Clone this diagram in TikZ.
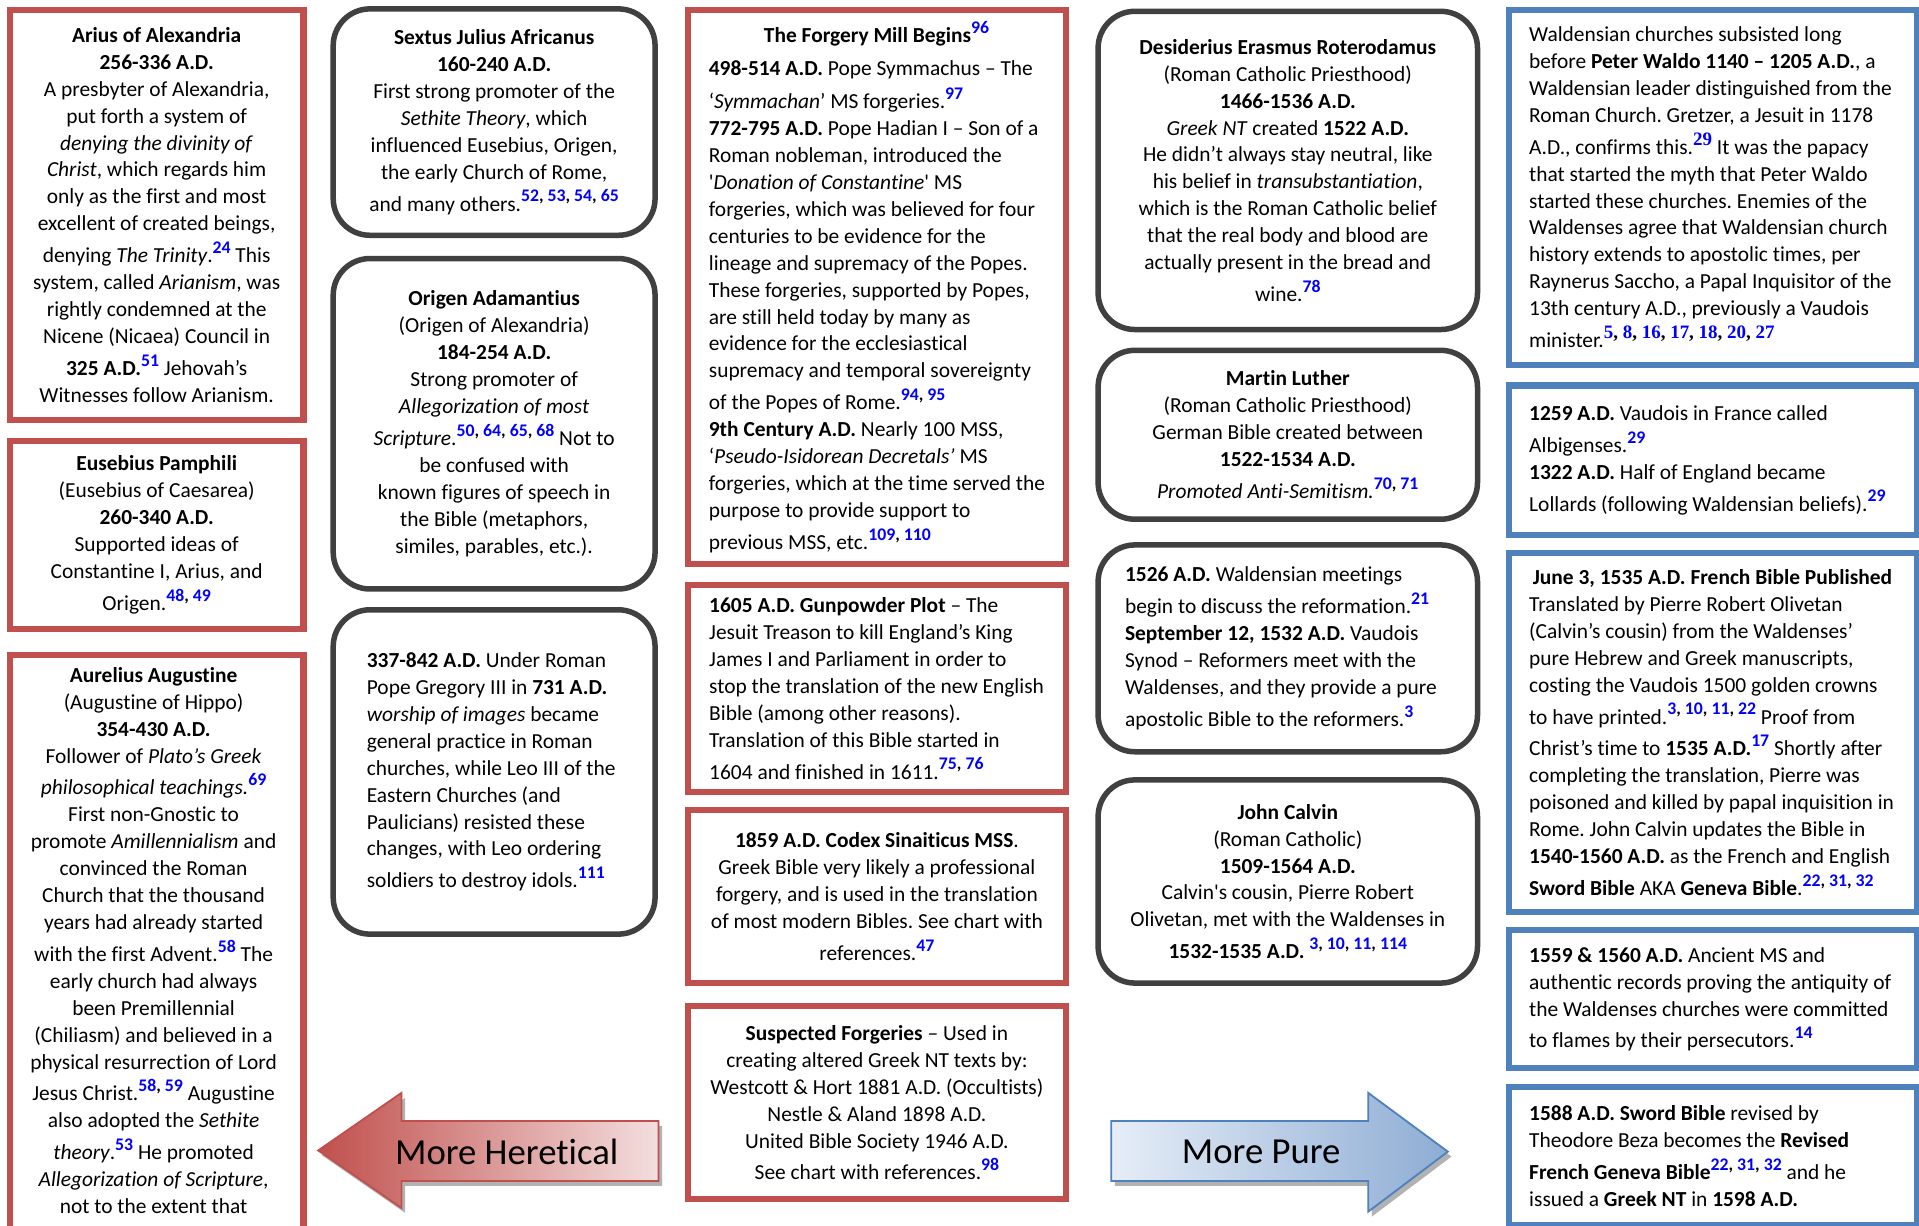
\documentclass[tikz,border=0pt]{standalone}
\usepackage{fontspec}
\setmainfont{Carlito}[Ligatures=NoCommon]
\newfontfamily\tnr{Liberation Serif}
\usepackage{xcolor}
\definecolor{boxred}{HTML}{C0504D}
\definecolor{boxblue}{HTML}{4F81BD}
\definecolor{boxgray}{HTML}{404040}
\definecolor{refblue}{HTML}{0000FF}
\definecolor{pinklight}{HTML}{F4DEDE}
\definecolor{bluelight}{HTML}{E6EDF7}
\definecolor{bluemid}{HTML}{8EADD4}
\newcommand\mainsz{\fontsize{17.5}{22}\selectfont\frenchspacing}
\newcommand\sr[1]{\raisebox{7.5pt}{\fontsize{14.5}{14.5}\selectfont\bfseries #1}}
\newcommand\srt[1]{\raisebox{7.5pt}{\fontsize{15.5}{15.5}\selectfont\tnr\bfseries #1}}
\newcommand\rb[1]{\textcolor{refblue}{#1}}
\newcommand\lw[2]{\makebox[#1pt][l]{#2}}
\tikzset{
  basebox/.style={line width=5pt, fill=white, inner sep=0pt, font=\mainsz, anchor=north west, text=black},
  redbox/.style={basebox, draw=boxred},
  bluebox/.style={basebox, draw=boxblue},
  graybox/.style={basebox, draw=boxgray, line width=4.5pt, rounded corners=30pt},
  cbox/.style={align=center},
  lbox/.style={align=left},
  arrowtxt/.style={font=\fontsize{30}{36}\selectfont, inner sep=0pt, text=black}
}
\begin{document}
\begin{tikzpicture}[x=1pt,y=-1pt]
\useasboundingbox (0,0) rectangle (1568,1001);
\fill[white] (0,0) rectangle (1568,1001);
\clip (0,0) rectangle (1568,1001);

% ---------- column A ----------
\node[redbox, cbox, minimum width=240, minimum height=335] (a1) at (5.5,5.5) {%
\textbf{Arius of Alexandria}\\
\textbf{256-336 A.D.}\\
A presbyter of Alexandria,\\
put forth a system of\\
\textit{denying the divinity of}\\
\textit{Christ}, which regards him\\
only as the first and most\\
excellent of created beings,\\[4pt]
denying \textit{The Trinity}.\sr{\rb{24}} This\\
system, called \textit{Arianism}, was\\
rightly condemned at the\\
Nicene (Nicaea) Council in\\[4pt]
\textbf{325 A.D.}\sr{\rb{51}} Jehovah’s\\
Witnesses follow Arianism.};

\node[redbox, cbox, minimum width=240, minimum height=154] (a2) at (5.5,357.5) {%
\textbf{Eusebius Pamphili}\\
(Eusebius of Caesarea)\\
\textbf{260-340 A.D.}\\
Supported ideas of\\
Constantine I, Arius, and\\[4pt]
Origen.\sr{\rb{48}, \rb{49}}};

\node[redbox, minimum width=240, minimum height=540] (a3) at (5.5,532.5) {};
\node[anchor=north, inner sep=0pt, font=\mainsz, align=center] (a3t) at (125.5,545) {%
\textbf{Aurelius Augustine}\\
(Augustine of Hippo)\\
\textbf{354-430 A.D.}\\
Follower of \textit{Plato’s Greek}\\[4pt]
\textit{philosophical teachings.}\sr{\rb{69}}\\
First non-Gnostic to\\
promote \textit{Amillennialism} and\\
convinced the Roman\\
Church that the thousand\\
years had already started\\[4pt]
with the first Advent.\sr{\rb{58}} The\\
early church had always\\
been Premillennial\\
(Chiliasm) and believed in a\\
physical resurrection of Lord\\[4pt]
Jesus Christ.\sr{\rb{58}, \rb{59}} Augustine\\
also adopted the \textit{Sethite}\\[4pt]
\textit{theory}.\sr{\rb{53}} He promoted\\
\textit{Allegorization of Scripture},\\
not to the extent that};

% ---------- column B ----------
\node[graybox, cbox, minimum width=263, minimum height=185] (b1) at (270,5) {%
\textbf{Sextus Julius Africanus}\\
\textbf{160-240 A.D.}\\
First strong promoter of the\\
\textit{Sethite Theory}, which\\
influenced Eusebius, Origen,\\
the early Church of Rome,\\[4pt]
and many others.\sr{\rb{52}, \rb{53}, \rb{54}, \rb{65}}};

\node[graybox, cbox, minimum width=263, minimum height=270] (b2) at (270,209) {%
\textbf{Origen Adamantius}\\
(Origen of Alexandria)\\
\textbf{184-254 A.D.}\\
Strong promoter of\\
\textit{Allegorization of most}\\[4pt]
\textit{Scripture}.\sr{\rb{50}, \rb{64}, \rb{65}, \rb{68}} Not to\\
be confused with\\
known figures of speech in\\
the Bible (metaphors,\\
similes, parables, etc.).};

\node[graybox, lbox, minimum width=263, minimum height=265] (b3) at (270,496) {%
\lw{208}{\textbf{337-842 A.D.} Under Roman}\\
Pope Gregory III in \textbf{731 A.D.}\\
\textit{worship of images} became\\
general practice in Roman\\
churches, while Leo III of the\\
Eastern Churches (and\\
Paulicians) resisted these\\
changes, with Leo ordering\\[4pt]
soldiers to destroy idols.\sr{\rb{111}}};

% ---------- column C ----------
\node[redbox, lbox, minimum width=309, minimum height=453] (c1) at (559.5,5.5) {%
\makebox[274pt]{\textbf{The Forgery Mill Begins}\sr{\rb{96}}}\\[5pt]
\textbf{498-514 A.D.} Pope Symmachus – The\\[5pt]
‘\textit{Symmachan}’ MS forgeries.\sr{\rb{97}}\\
\textbf{772-795 A.D.} Pope Hadian I – Son of a\\
Roman nobleman, introduced the\\
\textquotesingle\textit{Donation of Constantine}\textquotesingle{} MS\\
forgeries, which was believed for four\\
centuries to be evidence for the\\
lineage and supremacy of the Popes.\\
These forgeries, supported by Popes,\\
are still held today by many as\\
evidence for the ecclesiastical\\
supremacy and temporal sovereignty\\[4pt]
of the Popes of Rome.\sr{\rb{94}, \rb{95}}\\
\textbf{9th Century A.D.} Nearly 100 MSS,\\
‘\textit{Pseudo-Isidorean Decretals’} MS\\
forgeries, which at the time served the\\
purpose to provide support to\\[4pt]
previous MSS, etc.\sr{\rb{109}, \rb{110}}};

\node[redbox, lbox, minimum width=309, minimum height=169] (c2) at (559.5,475.5) {%
\lw{274}{\textbf{1605 A.D. Gunpowder Plot} – The}\\
Jesuit Treason to kill England’s King\\
James I and Parliament in order to\\
stop the translation of the new English\\
Bible (among other reasons).\\
Translation of this Bible started in\\[4pt]
1604 and finished in 1611.\sr{\rb{75}, \rb{76}}};

\node[redbox, cbox, minimum width=309, minimum height=141] (c3) at (559.5,659.5) {%
\textbf{1859 A.D. Codex Sinaiticus MSS}.\\
Greek Bible very likely a professional\\
forgery, and is used in the translation\\
of most modern Bibles. See chart with\\[4pt]
references.\sr{\rb{47}}};

\node[redbox, cbox, minimum width=309, minimum height=158] (c4) at (559.5,819.5) {%
\textbf{Suspected Forgeries} – Used in\\
creating altered Greek NT texts by:\\
Westcott \& Hort 1881 A.D. (Occultists)\\
Nestle \& Aland 1898 A.D.\\
United Bible Society 1946 A.D.\\[4pt]
See chart with references.\sr{\rb{98}}};

% ---------- column D ----------
\node[graybox, cbox, minimum width=310, minimum height=260] (d1) at (895,7) {%
\textbf{Desiderius Erasmus Roterodamus}\\
(Roman Catholic Priesthood)\\
\textbf{1466-1536 A.D.}\\
\textit{Greek NT} created \textbf{1522 A.D.}\\
He didn’t always stay neutral, like\\
his belief in \textit{transubstantiation},\\
which is the Roman Catholic belief\\
that the real body and blood are\\
actually present in the bread and\\[4pt]
wine.\sr{\rb{78}}};

\node[graybox, cbox, minimum width=310, minimum height=138] (d2) at (895,284) {%
\textbf{Martin Luther}\\
(Roman Catholic Priesthood)\\
German Bible created between\\
\textbf{1522-1534 A.D.}\\[4pt]
\textit{Promoted Anti-Semitism.}\sr{\rb{70}, \rb{71}}};

\node[graybox, lbox, minimum width=310, minimum height=169] (d3) at (895,443) {%
\lw{266}{\textbf{1526 A.D.} Waldensian meetings}\\[4pt]
begin to discuss the reformation.\sr{\rb{21}}\\
\textbf{September 12, 1532 A.D.} Vaudois\\
Synod – Reformers meet with the\\
Waldenses, and they provide a pure\\[4pt]
apostolic Bible to the reformers.\sr{\rb{3}}};

\node[graybox, cbox, minimum width=310, minimum height=166] (d4) at (895,635) {%
\textbf{John Calvin}\\
(Roman Catholic)\\
\textbf{1509-1564 A.D.}\\
Calvin\textquotesingle s cousin, Pierre Robert\\
Olivetan, met with the Waldenses in\\[4pt]
\textbf{1532-1535 A.D.} \sr{\rb{3}, \rb{10}, \rb{11}, \rb{114}}};

% ---------- column E ----------
\node[bluebox, lbox, minimum width=333, minimum height=290] (e1) at (1230.5,5.5) {%
\lw{300}{Waldensian churches subsisted long}\\
before \textbf{Peter Waldo 1140 – 1205 A.D.}, a\\
Waldensian leader distinguished from the\\
Roman Church. Gretzer, a Jesuit in 1178\\[4pt]
A.D., confirms this.\srt{\rb{29}} It was the papacy\\
that started the myth that Peter Waldo\\
started these churches. Enemies of the\\
Waldenses agree that Waldensian church\\
history extends to apostolic times, per\\
Raynerus Saccho, a Papal Inquisitor of the\\
13th century A.D., previously a Vaudois\\[4pt]
minister.\srt{\rb{5}, \rb{8}, \rb{16}, \rb{17}, \rb{18}, \rb{20}, \rb{27}}};

\node[bluebox, lbox, minimum width=333, minimum height=122] (e2) at (1230.5,312.5) {%
\lw{300}{\textbf{1259 A.D.} Vaudois in France called}\\[4pt]
Albigenses.\sr{\rb{29}}\\
\textbf{1322 A.D.} Half of England became\\[4pt]
Lollards (following Waldensian beliefs).\sr{\rb{29}}};

\node[bluebox, lbox, minimum width=333, minimum height=293] (e3) at (1230.5,449.5) {%
\lw{300}{\hspace*{3pt}\textbf{June 3, 1535 A.D. French Bible Published}}\\
Translated by Pierre Robert Olivetan\\
(Calvin’s cousin) from the Waldenses’\\
pure Hebrew and Greek manuscripts,\\
costing the Vaudois 1500 golden crowns\\[4pt]
to have printed.\sr{\rb{3}, \rb{10}, \rb{11}, \rb{22}} Proof from\\[4pt]
Christ’s time to \textbf{1535 A.D.}\sr{\rb{17}} Shortly after\\
completing the translation, Pierre was\\
poisoned and killed by papal inquisition in\\
Rome. John Calvin updates the Bible in\\
\textbf{1540-1560 A.D.} as the French and English\\[4pt]
\textbf{Sword Bible} AKA \textbf{Geneva Bible}.\sr{\rb{22}, \rb{31}, \rb{32}}};

\node[bluebox, lbox, minimum width=333, minimum height=113] (e4) at (1230.5,757.5) {%
\lw{300}{\textbf{1559 \& 1560 A.D.} Ancient MS and}\\
authentic records proving the antiquity of\\
the Waldenses churches were committed\\[4pt]
to flames by their persecutors.\sr{\rb{14}}};

\node[bluebox, lbox, minimum width=333, minimum height=113] (e5) at (1230.5,885.5) {%
\lw{300}{\textbf{1588 A.D. Sword Bible} revised by}\\
Theodore Beza becomes the \textbf{Revised}\\[4pt]
\textbf{French Geneva Bible}\sr{\rb{22}, \rb{31}, \rb{32}} and he\\
issued a \textbf{Greek NT} in \textbf{1598 A.D.}};

% ---------- arrows ----------
\fill[black!30, shift={(3,4)}] (260,940) -- (328,893) -- (328,916) -- (538,916) -- (538,965) -- (328,965) -- (328,987) -- cycle;
\shade[left color=boxred, right color=pinklight, draw=boxred, line width=1.5pt, line join=miter]
  (260,940) -- (328,893) -- (328,916) -- (538,916) -- (538,965) -- (328,965) -- (328,987) -- cycle;
\node[arrowtxt] (heretical) at (414,941) {More Heretical};

\fill[black!30, shift={(3,4)}] (908,916) -- (1118,916) -- (1118,893) -- (1183,941) -- (1118,990) -- (1118,965) -- (908,965) -- cycle;
\shade[left color=bluelight, right color=bluemid, draw=boxblue, line width=1.5pt, line join=miter]
  (908,916) -- (1118,916) -- (1118,893) -- (1183,941) -- (1118,990) -- (1118,965) -- (908,965) -- cycle;
\node[arrowtxt] (pure) at (1030.5,941) {More Pure};
\end{tikzpicture}
\end{document}
